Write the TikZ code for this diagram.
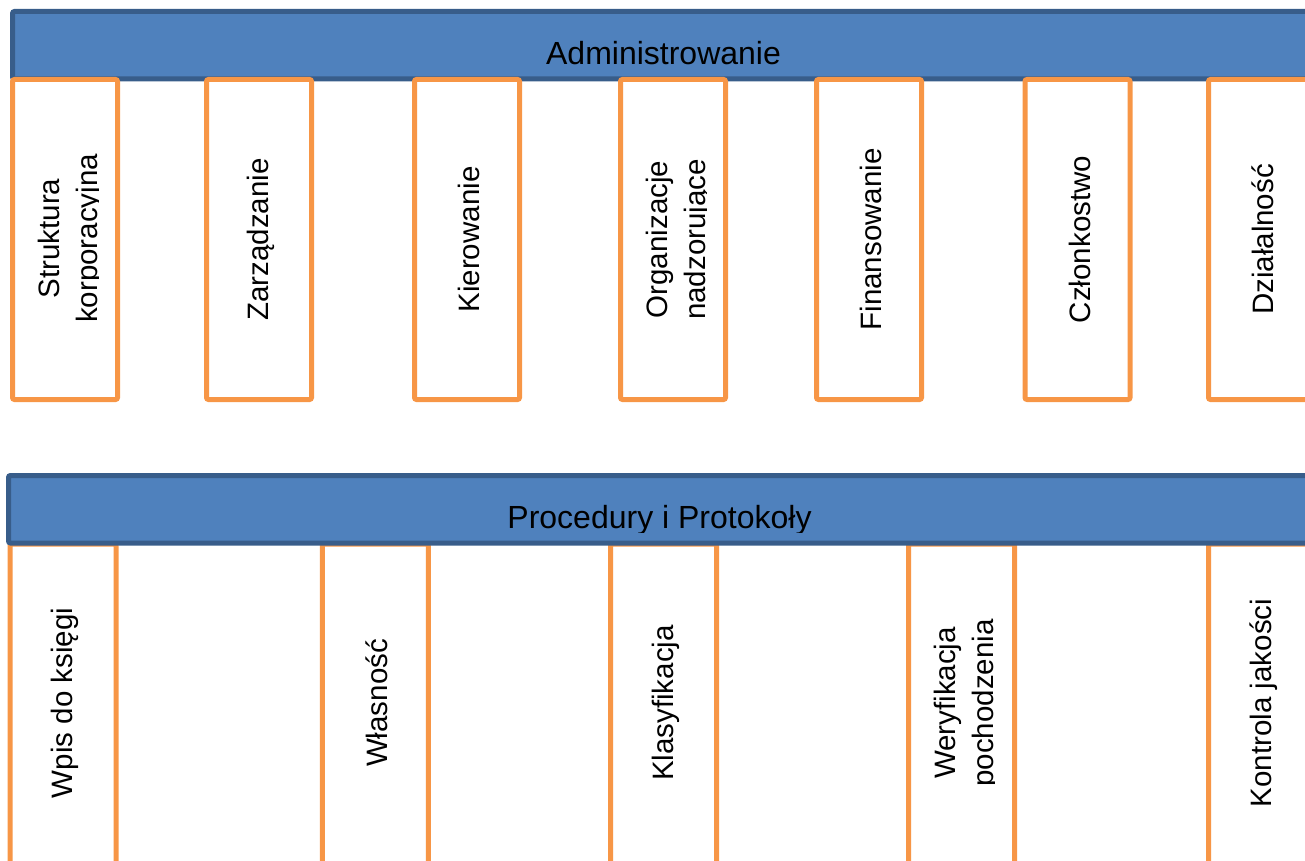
\documentclass[tikz,border=0pt]{standalone}
\usepackage{fontspec}
\setmainfont{Liberation Sans}
\definecolor{barfill}{HTML}{4F81BD}
\definecolor{barline}{HTML}{385D8A}
\definecolor{boxline}{HTML}{F79646}
\begin{document}
\begin{tikzpicture}[x=1pt,y=-1pt,
 bar/.style={draw=barline,fill=barfill,line width=5pt,rounded corners=2pt},
 box/.style={draw=boxline,fill=white,line width=5pt,rounded corners=2pt,inner sep=0pt,minimum width=105pt,minimum height=320pt},
 lowbox/.style={draw=boxline,fill=white,line width=5pt,rounded corners=2pt,inner sep=0pt,minimum width=106pt,minimum height=322pt},
 title/.style={font=\fontsize{32}{38.4}\selectfont,anchor=base,inner sep=0pt},
 vlabel/.style={font=\fontsize{29.5}{38}\selectfont,rotate=90,inner sep=0pt},
 vline/.style={font=\fontsize{29.5}{38}\selectfont,rotate=90,anchor=base,inner sep=0pt}]
\useasboundingbox (0,0) rectangle (1305,861);
\clip (0,0) rectangle (1305,861);
% top bar
\draw[bar] (12.5,11.5) rectangle (1340,79);
\node[title] (t1) at (663.5,64.5) {Administrowanie};
% top boxes
\node[box] (a1) at (65,239.5) {};
\node[box] (a2) at (259,239.5) {};
\node[box] (a3) at (467,239.5) {};
\node[box] (a4) at (673,239.5) {};
\node[box] (a5) at (869,239.5) {};
\node[box] (a6) at (1077.5,239.5) {};
\node[box] (a7) at (1261,239.5) {};
\begin{scope}\clip (10,77) rectangle (98,402);
\node[vline] (a1t) at (59.5,238.5) {Struktura};
\node[vline] (a1u) at (97.5,238.5) {korporacyjna};\end{scope}
\node[vlabel] (a2t) at ([xshift=2pt]a2.center) {Zarządzanie};
\node[vlabel] (a3t) at ([xshift=2pt]a3.center) {Kierowanie};
\begin{scope}\clip (618,77) rectangle (706,402);
\node[vline] (a4t) at (667.5,239.5) {Organizacje};
\node[vline] (a4u) at (705.5,239.5) {nadzorujące};\end{scope}
\node[vlabel] (a5t) at ([xshift=2pt]a5.center) {Finansowanie};
\node[vlabel] (a6t) at ([xshift=2pt]a6.center) {Członkostwo};
\node[vlabel] (a7t) at ([xshift=2pt]a7.center) {Działalność};
% bottom boxes
\node[lowbox] (b1) at (63,705) {};
\node[lowbox] (b2) at (375.25,705) {};
\node[lowbox] (b3) at (663.5,705) {};
\node[lowbox] (b4) at (961.5,705) {};
\node[lowbox] (b5) at (1261.5,705) {};
\node[vlabel] (b1t) at ([xshift=2pt,yshift=2pt]b1.center) {Wpis do księgi};
\node[vlabel] (b2t) at ([xshift=2pt,yshift=2pt]b2.center) {Własność};
\node[vlabel] (b3t) at ([xshift=2pt,yshift=2pt]b3.center) {Klasyfikacja};
\begin{scope}\clip (906,546) rectangle (994,861);
\node[vline] (b4t) at (955.5,703) {Weryfikacja};
\node[vline] (b4u) at (993.5,703) {pochodzenia};\end{scope}
\node[vlabel] (b5t) at ([xshift=2pt,yshift=2pt]b5.center) {Kontrola jakości};
% bottom bar
\draw[bar] (8.5,475.5) rectangle (1340,543);
\begin{scope}\clip (0,473) rectangle (1305,532);
\node[title] (t2) at (659.5,528) {Procedury i Protokoły};\end{scope}
\end{tikzpicture}
\end{document}
